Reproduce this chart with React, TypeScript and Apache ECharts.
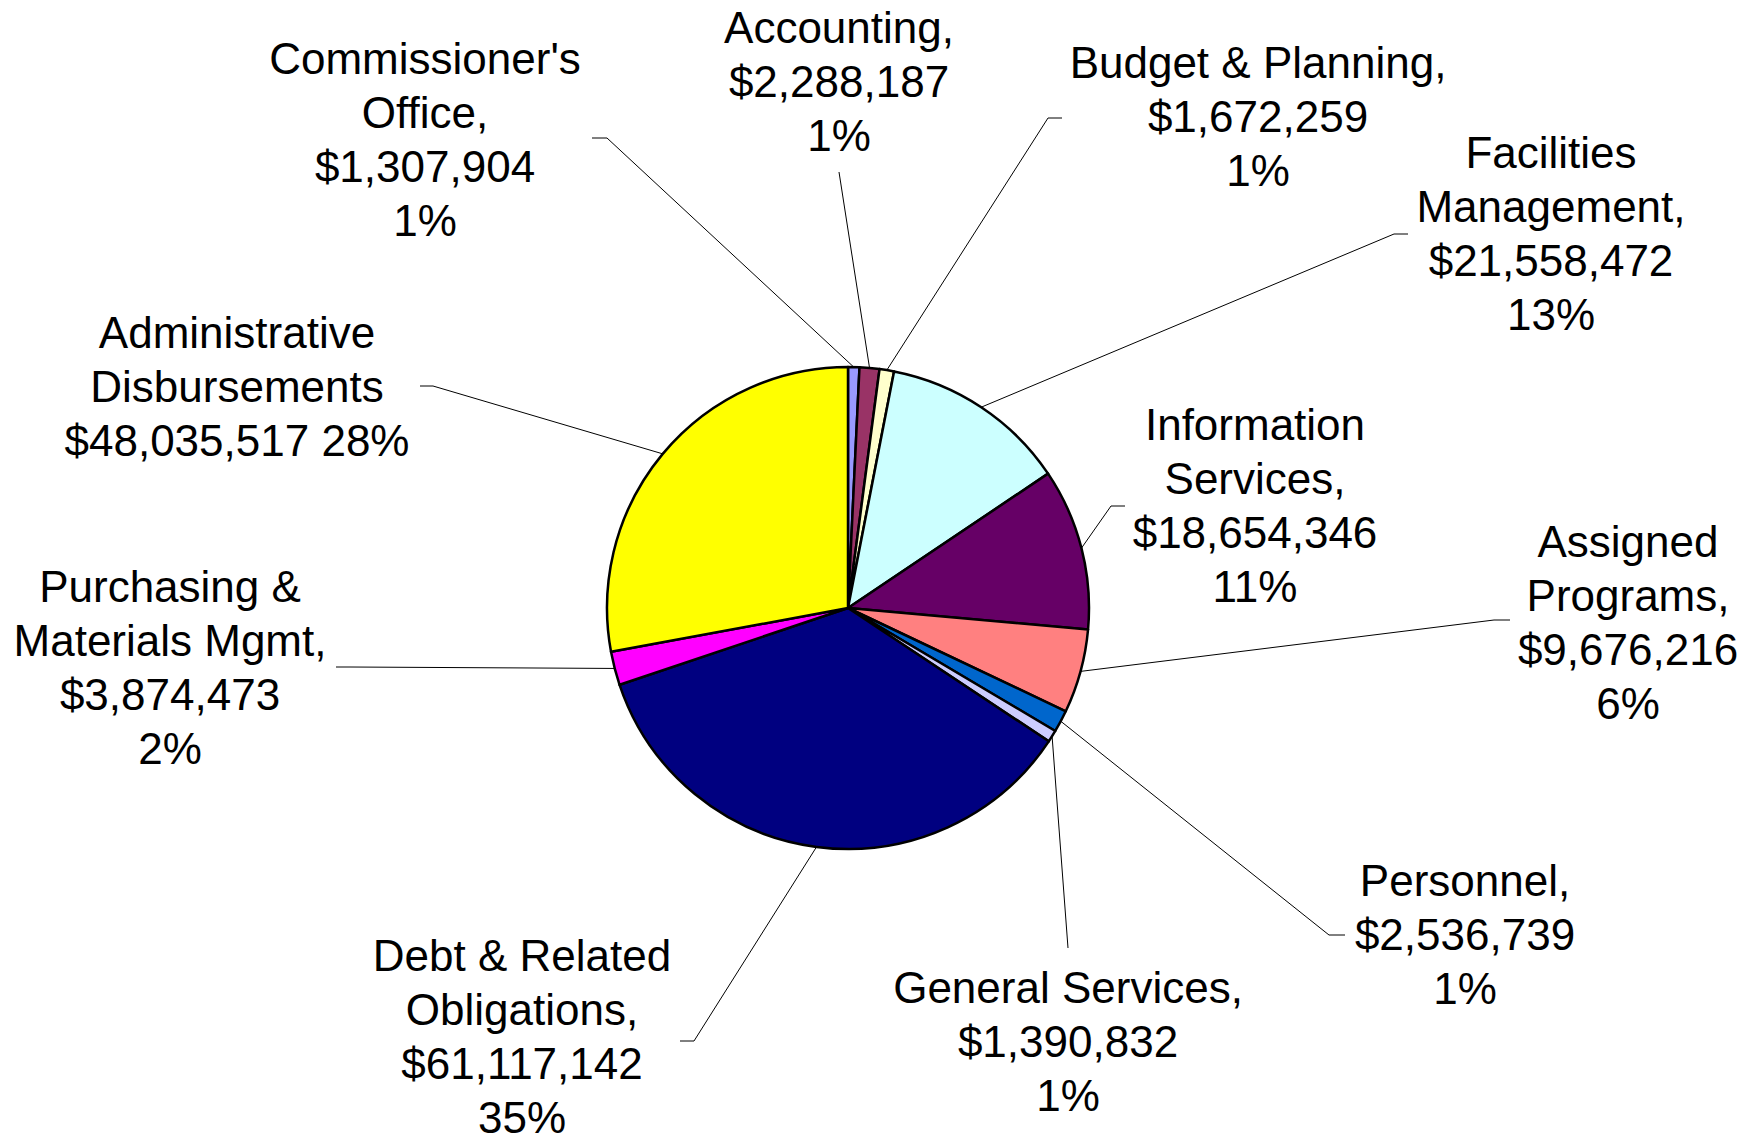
import React, { useEffect, useRef } from "react";
import * as echarts from "echarts";

// ---- Data ----
const categories = [
  "Commissioner's Office",
  "Accounting",
  "Budget & Planning",
  "Facilities Management",
  "Information Services",
  "Assigned Programs",
  "Personnel",
  "General Services",
  "Debt & Related Obligations",
  "Purchasing & Materials Mgmt",
  "Administrative Disbursements",
];

const values = [
  1307904, 2288187, 1672259, 21558472, 18654346, 9676216, 2536739, 1390832,
  61117142, 3874473, 48035517,
];

const percentLabels = ["1%", "1%", "1%", "13%", "11%", "6%", "1%", "1%", "35%", "2%", "28%"];

const labelNameLines = [
  "Commissioner's\nOffice,",
  "Accounting,",
  "Budget & Planning,",
  "Facilities\nManagement,",
  "Information\nServices,",
  "Assigned\nPrograms,",
  "Personnel,",
  "General Services,",
  "Debt & Related\nObligations,",
  "Purchasing &\nMaterials Mgmt,",
  "Administrative\nDisbursements",
];

const valuePctSeparator = ["\n", "\n", "\n", "\n", "\n", "\n", "\n", "\n", "\n", "\n", " "];

const sliceColors = [
  "#9999FF",
  "#993366",
  "#FFFFCC",
  "#CCFFFF",
  "#660066",
  "#FF8080",
  "#0066CC",
  "#CCCCFF",
  "#000080",
  "#FF00FF",
  "#FFFF00",
];

// ---- Layout (label block centres and leader line bend / end points) ----
const PIE_CX = 848;
const PIE_CY = 608;
const PIE_R = 241;

const labelCenters: [number, number][] = [
  [425, 139],
  [839, 81],
  [1258, 116],
  [1551, 233],
  [1255, 505],
  [1628, 622],
  [1465, 934],
  [1068, 1041],
  [522, 1036],
  [170, 667],
  [237, 386],
];

const leaderBends: [number, number][] = [
  [607, 138],
  [839, 172],
  [1048, 118],
  [1394, 234],
  [1111, 506],
  [1494, 620],
  [1329, 935],
  [1068, 948],
  [694, 1041],
  [350, 667],
  [433, 386],
];

const leaderEnds: [number, number][] = [
  [592, 138],
  [839, 172],
  [1062, 118],
  [1408, 234],
  [1125, 506],
  [1510, 620],
  [1345, 935],
  [1068, 948],
  [680, 1041],
  [336, 667],
  [420, 386],
];

function formatMoney(v: number): string {
  return "$" + v.toLocaleString("en-US");
}

export default function App() {
  const ref = useRef<HTMLDivElement | null>(null);

  useEffect(() => {
    document.body.style.margin = "0";
    document.body.style.overflow = "hidden";
    if (!ref.current) return;
    const chart = echarts.init(ref.current, undefined, { renderer: "svg" });

    const total = values.reduce((a, b) => a + b, 0);

    const option: any = {
      animation: false,
      backgroundColor: "#ffffff",
      series: [
        {
          type: "pie",
          center: [PIE_CX, PIE_CY],
          radius: PIE_R,
          startAngle: 90,
          clockwise: true,
          avoidLabelOverlap: false,
          silent: true,
          itemStyle: {
            borderColor: "#000000",
            borderWidth: 2.5,
          },
          emphasis: { disabled: true },
          label: {
            show: true,
            position: "outside",
            color: "#000000",
            fontFamily: "Liberation Sans, Arial, sans-serif",
            fontSize: 44,
            lineHeight: 54,
            align: "center",
            formatter: (p: any) => {
              const i = p.dataIndex;
              return (
                labelNameLines[i] +
                "\n" +
                formatMoney(values[i]) +
                valuePctSeparator[i] +
                percentLabels[i]
              );
            },
          },
          labelLine: {
            show: true,
            length: 10,
            length2: 10,
            smooth: false,
            lineStyle: { color: "#000000", width: 1 },
          },
          labelLayout: (params: any) => {
            const i = params.dataIndex;
            let start: number[];
            if (params.labelLinePoints && params.labelLinePoints[0]) {
              start = params.labelLinePoints[0];
            } else {
              let before = 0;
              for (let k = 0; k < i; k++) before += values[k];
              const mid = ((before + values[i] / 2) / total) * Math.PI * 2;
              start = [PIE_CX + PIE_R * Math.sin(mid), PIE_CY - PIE_R * Math.cos(mid)];
            }
            return {
              x: labelCenters[i][0],
              y: labelCenters[i][1],
              align: "center",
              verticalAlign: "middle",
              labelLinePoints: [
                [start[0], start[1]],
                leaderBends[i],
                leaderEnds[i],
              ],
            };
          },
          data: categories.map((name, i) => ({
            name,
            value: values[i],
            itemStyle: { color: sliceColors[i] },
          })),
        },
      ],
    };

    chart.setOption(option);
    return () => {
      chart.dispose();
    };
  }, []);

  return <div ref={ref} style={{ width: 1761, height: 1140 }} />;
}
